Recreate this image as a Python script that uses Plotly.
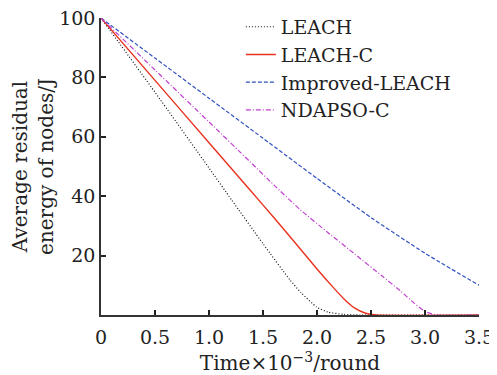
import plotly.graph_objects as go

# Data (x in units of 10^3 rounds, y: average residual energy / J)
leach_x = [0, 0.5, 1.0, 1.21, 1.5, 1.75, 1.85, 2.0, 2.1, 2.25, 2.4, 3.5]
leach_y = [100, 75, 49.5, 38.7, 24, 11.8, 7.6, 2.6, 1.0, 0.2, 0, 0]

leachc_x = [0, 0.5, 1.0, 1.38, 1.6, 1.84, 2.0, 2.15, 2.25, 2.35, 2.45, 2.55, 3.5]
leachc_y = [100, 79, 58, 42.1, 32.8, 22.5, 15.5, 9.3, 5.4, 2.3, 0.6, 0, 0]

improved_x = [0, 0.5, 1.0, 1.5, 2.0, 2.5, 3.0, 3.5]
improved_y = [100, 86.5, 73, 59.5, 46, 32.8, 20.8, 10]

ndapso_x = [0, 0.5, 1.0, 1.38, 1.6, 1.84, 2.1, 2.35, 2.6, 2.77, 2.9, 3.0, 3.1, 3.5]
ndapso_y = [100, 82.5, 65, 51.6, 43.8, 35.6, 27.8, 20.5, 13.2, 8.2, 4.0, 1.2, 0, 0]

x_ticks = [0, 0.5, 1.0, 1.5, 2.0, 2.5, 3.0, 3.5]
x_ticktext = ["0", "0.5", "1.0", "1.5", "2.0", "2.5", "3.0", "3.5"]
y_ticks = [20, 40, 60, 80, 100]

FONT = "DejaVu Serif"

fig = go.Figure()
fig.add_trace(go.Scatter(x=leach_x, y=leach_y, mode="lines", name="LEACH",
                         line=dict(color="#111111", width=1.2, dash="1px,2px", shape="spline", smoothing=0.5)))
fig.add_trace(go.Scatter(x=leachc_x, y=leachc_y, mode="lines", name="LEACH-C",
                         line=dict(color="#e8321e", width=1.4, shape="spline", smoothing=0.5)))
fig.add_trace(go.Scatter(x=improved_x, y=improved_y, mode="lines", name="Improved-LEACH",
                         line=dict(color="#3050c0", width=1.2, dash="4px,2px", shape="spline", smoothing=0.5)))
fig.add_trace(go.Scatter(x=ndapso_x, y=ndapso_y, mode="lines", name="NDAPSO-C",
                         line=dict(color="#c040d0", width=1.2, dash="5px,2px,1px,2px", shape="spline", smoothing=0.5)))

# The page body adds an 8px offset, so the figure is sized/placed to compensate.
fig.update_layout(
    width=489, height=367,
    margin=dict(l=93, r=18, t=10, b=60, autoexpand=False),
    paper_bgcolor="white", plot_bgcolor="white",
    font=dict(family=FONT, size=19, color="#222222"),
    showlegend=True,
    legend=dict(x=0.37, y=1.034, xanchor="left", yanchor="top",
                bgcolor="rgba(0,0,0,0)", font=dict(size=19, family=FONT),
                tracegroupgap=0, itemwidth=30),
    xaxis=dict(range=[0, 3.5], tickvals=x_ticks, ticktext=x_ticktext,
               ticks="inside", ticklen=5, tickwidth=1.5, tickcolor="#222222",
               showline=True, linecolor="#333333", linewidth=1.5,
               showgrid=False, zeroline=False, automargin=False,
               ticklabeloverflow="allow", ticklabelstandoff=4,
               title=dict(text="Time×10<sup>−3</sup>/round", standoff=10, font=dict(size=20, family=FONT)),
               tickfont=dict(size=19, family=FONT)),
    yaxis=dict(range=[0, 100], tickvals=y_ticks,
               ticks="inside", ticklen=5, tickwidth=1.5, tickcolor="#222222",
               showline=True, linecolor="#333333", linewidth=1.5,
               showgrid=False, zeroline=False, automargin=False,
               ticklabeloverflow="allow",
               title=dict(text="Average residual<br>energy of nodes/J", standoff=6, font=dict(size=20, family=FONT)),
               tickfont=dict(size=19, family=FONT)),
)

fig.write_html("out.html")
